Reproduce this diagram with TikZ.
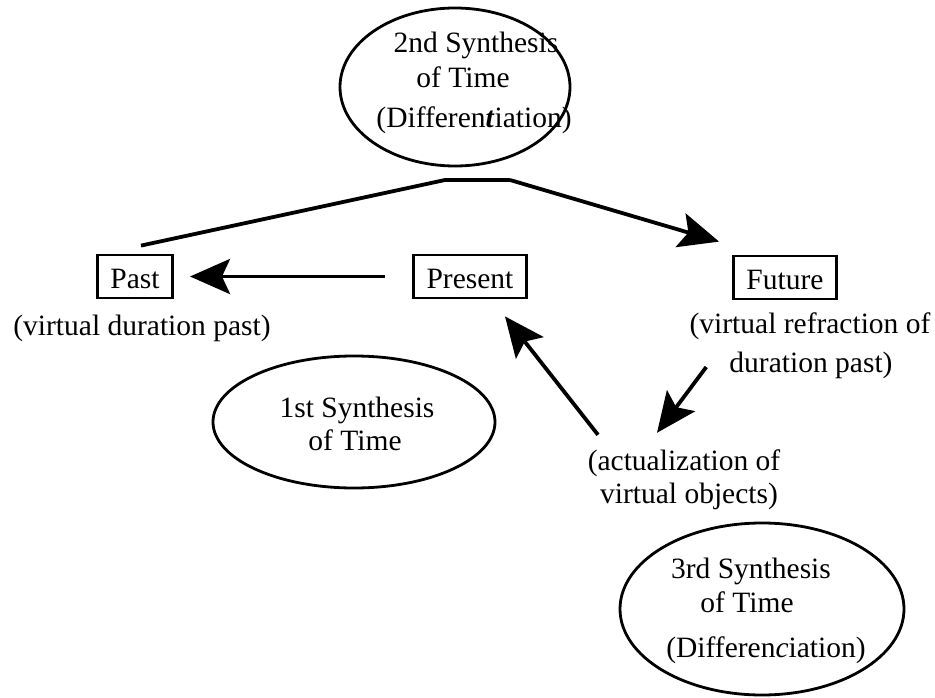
\documentclass[tikz,border=0pt]{standalone}
\usepackage{fontspec}
\setmainfont{Liberation Serif}
\usetikzlibrary{arrows.meta,shapes.geometric}
\tikzset{
  txt/.style={inner sep=0pt, text height=21pt, text depth=7pt, anchor=base, font=\fontsize{29.5}{34}\selectfont},
  boxnode/.style={draw, line width=2.8pt, inner xsep=13pt, inner ysep=10pt, text height=23pt, text depth=0pt, anchor=base, font=\fontsize{29.5}{34}\selectfont},
  oval/.style={draw, ellipse, line width=2.8pt, inner sep=0pt},
  conn/.style={line width=3.8pt, -{Stealth[length=40pt,width=35pt,inset=8pt]}},
  link/.style={line width=3.8pt}
}
\begin{document}
\begin{tikzpicture}[x=1pt,y=-1pt]
\useasboundingbox (0,0) rectangle (935,698);
% ellipses
\node[oval, minimum width=230pt, minimum height=158pt] (e2) at (455,87) {};
\node[oval, minimum width=282pt, minimum height=132pt] (e1) at (354,422) {};
\node[oval, minimum width=284pt, minimum height=172pt] (e3) at (762,609) {};
% ellipse texts
\node[txt] (e2a) at (476,53) {2nd Synthesis};
\node[txt] (e2b) at (463,88) {of Time};
\node[txt] (e2c) at (474,128) {(Differen\textbf{\textit{t}}iation)};
\node[txt] (e1a) at (357,417) {1st Synthesis};
\node[txt] (e1b) at (355,450) {of Time};
\node[txt] (e3a) at (751,578) {3rd Synthesis};
\node[txt] (e3b) at (747,612) {of Time};
\node[txt] (e3c) at (766,657) {(Differen\textit{c}iation)};
% boxes
\node[boxnode] (past) at (135,288) {Past};
\node[boxnode] (pres) at (470,288) {Present};
\node[boxnode] (fut) at (785,289) {Future};
% captions
\node[txt] (pastc) at (142,335) {(virtual duration past)};
\node[txt] (futc1) at (810,333) {(virtual refraction of};
\node[txt] (futc2) at (811,372) {duration past)};
\node[txt] (act1) at (684,470) {(actualization of};
\node[txt] (act2) at (689,503) {virtual objects)};
% connectors
\coordinate (b1) at (445,180);
\coordinate (b2) at (510,180);
\draw[conn, shorten <=27pt, shorten >=16pt] (pres.west) -- (past.east);
\draw[link, line join=round] ([xshift=6pt,yshift=8pt]past.north) -- (b1) -- (b2);
\draw[conn] (b2) -- ([xshift=-13pt,yshift=13pt]fut.north west);
\draw[conn] ([xshift=-86pt,yshift=14pt]act1.north) -- ([xshift=35pt,yshift=-17pt]pres.south);
\draw[conn] ([xshift=-23pt,yshift=-2pt]futc2.west) -- ([xshift=-27pt,yshift=16pt]act1.north);
\end{tikzpicture}
\end{document}
